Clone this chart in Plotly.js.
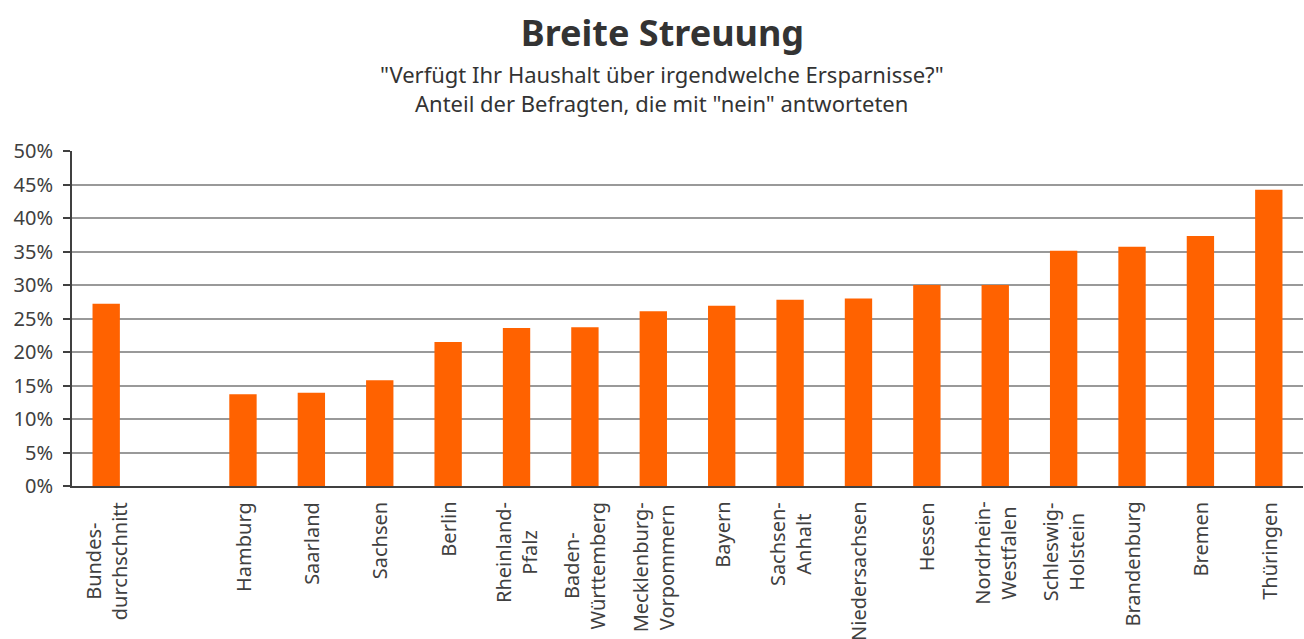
<!DOCTYPE html>
<html>
<head>
<meta charset="utf-8">
<script src="https://cdn.plot.ly/plotly-3.0.1.min.js"></script>
<style>html,body{margin:0;padding:0;background:#fff;}#chart{width:1304px;height:639px;}</style>
</head>
<body>
<div id="chart"></div>
<script>
const categories = [
  "Bundes-<br>durchschnitt", " ", "Hamburg", "Saarland", "Sachsen", "Berlin",
  "Rheinland-<br>Pfalz", "Baden-<br>Württemberg", "Mecklenburg-<br>Vorpommern", "Bayern",
  "Sachsen-<br>Anhalt", "Niedersachsen", "Hessen", "Nordrhein-<br>Westfalen",
  "Schleswig-<br>Holstein", "Brandenburg", "Bremen", "Thüringen"
];
const values = [27.2, null, 13.7, 13.9, 15.8, 21.5, 23.6, 23.7, 26.1, 26.9, 27.8, 28.0, 30.0, 30.0, 35.1, 35.7, 37.3, 44.2];
const yTicks = [0, 5, 10, 15, 20, 25, 30, 35, 40, 45, 50];
const titleText = "Breite Streuung";
const subtitleLines = ["\"Verfügt Ihr Haushalt über irgendwelche Ersparnisse?\"", "Anteil der Befragten, die mit \"nein\" antworteten"];

const font = "Noto Sans, Lato, sans-serif";
const data = [{
  type: "bar",
  x: categories,
  y: values,
  marker: {color: "#ff6200"},
  hoverinfo: "x+y"
}];

const subtitleAnn = subtitleLines.map((t, i) => ({
  text: t, xref: "paper", yref: "paper", x: 0.479, xanchor: "center",
  y: 1 + (151 - 74 - 29 * i) / 335, yanchor: "middle", showarrow: false,
  font: {size: 22, color: "#333", family: font}
}));
const labelAnn = categories.filter(c => c.trim() !== "").map(c => ({
  text: c, xref: "x", yref: "paper", x: c, y: 0, xanchor: "center", yanchor: "top",
  yshift: -14, textangle: -90, align: "center", showarrow: false,
  font: {size: 20, color: "#404040", family: font}
}));

const layout = {
  width: 1304, height: 639,
  margin: {l: 72, r: 1, t: 151, b: 153},
  paper_bgcolor: "#fff", plot_bgcolor: "#fff",
  font: {family: font, color: "#404040", size: 20},
  bargap: 0.6,
  showlegend: false,
  title: {text: "<b>" + titleText + "</b>", x: 0.508, xanchor: "center", y: 0.948, yanchor: "middle",
          font: {size: 36, color: "#333", family: font}},
  annotations: subtitleAnn.concat(labelAnn),
  xaxis: {
    type: "category", categoryarray: categories, categoryorder: "array",
    showticklabels: false, showline: true, linecolor: "#404040", linewidth: 2,
    ticks: "", showgrid: false, fixedrange: true
  },
  yaxis: {
    range: [0, 50], tickvals: yTicks, ticktext: yTicks.map(v => v + "%"),
    showline: true, linecolor: "#404040", linewidth: 2,
    ticks: "outside", ticklen: 7, tickcolor: "#404040", tickwidth: 2,
    ticklabelstandoff: 6,
    showgrid: true, gridcolor: "#999", gridwidth: 2, zeroline: false,
    tickfont: {size: 20, color: "#404040"}, fixedrange: true
  }
};
Plotly.newPlot("chart", data, layout, {displayModeBar: false, staticPlot: true});
</script>
</body>
</html>
